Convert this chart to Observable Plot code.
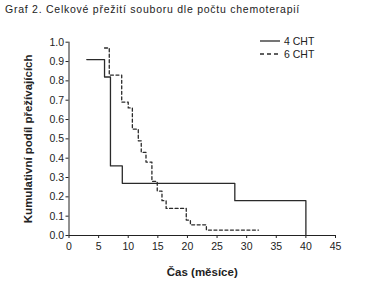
<!DOCTYPE html>
<html>
<head>
<meta charset="utf-8">
<script src="https://cdn.jsdelivr.net/npm/d3@7"></script>
<script src="https://cdn.jsdelivr.net/npm/@observablehq/plot@0.6"></script>
<style>
  body { margin: 0; background: white; font-family: "Liberation Sans", Arial, sans-serif; }
  #wrap { position: relative; width: 373px; height: 281px; overflow: hidden; }
  #title { height: 18px; line-height: 19px; padding-left: 5px; font-size: 10.5px; color: #222; letter-spacing: 0.75px; white-space: nowrap; }
  #legend { position: absolute; left: 260px; top: 34px; font-size: 10.5px; color: #222; }
  #legend div { display: flex; align-items: center; height: 13.5px; }
  #legend svg { margin-right: 4px; }
</style>
</head>
<body>
<div id="wrap">
  <div id="title">Graf 2. Celkové přežití souboru dle počtu chemoterapií</div>
  <div id="chart"></div>
  <div id="legend"></div>
</div>
<script>
const title = "Graf 2. Celkové přežití souboru dle počtu chemoterapií";
const xLabel = "Čas (měsíce)";
const yLabel = "Kumulativní podíl přežívajících";
const seriesNames = ["4 CHT", "6 CHT"];

// 4 CHT (solid) step curve: time (months), cumulative survival
const cht4Time = [3, 6, 7, 9, 28, 40];
const cht4Surv = [0.91, 0.82, 0.36, 0.27, 0.18, 0.0];

// 6 CHT (dashed) step curve
const cht6Time = [6, 6.8, 8.9, 10, 10.7, 11.7, 12.2, 13, 14, 14.9, 15.7, 16.4, 19.8, 20.5, 23.2, 32];
const cht6Surv = [0.97, 0.83, 0.69, 0.66, 0.55, 0.49, 0.43, 0.38, 0.28, 0.23, 0.18, 0.14, 0.08, 0.055, 0.028, 0.028];

const xTicks = [0, 5, 10, 15, 20, 25, 30, 35, 40, 45];
const yTicks = [0, 0.1, 0.2, 0.3, 0.4, 0.5, 0.6, 0.7, 0.8, 0.9, 1.0];

const d4 = cht4Time.map((t, i) => ({t, s: cht4Surv[i]}));
const d6 = cht6Time.map((t, i) => ({t, s: cht6Surv[i]}));

const chart = Plot.plot({
  width: 373,
  height: 263,
  marginLeft: 68.5,
  marginRight: 38,
  marginTop: 23.7,
  marginBottom: 46,
  style: { fontFamily: "'Liberation Sans', Arial, sans-serif", fontSize: "10.5px", color: "#222", background: "white" },
  x: { domain: [0, 45] },
  y: { domain: [0, 1] },
  marks: [
    Plot.axisX({ ticks: xTicks, tickSize: 3, tickPadding: 4, label: xLabel, labelAnchor: "center", labelOffset: 40, stroke: "#222" }),
    Plot.axisY({ ticks: yTicks, tickSize: 3, tickPadding: 2, tickFormat: d => d.toFixed(1), label: yLabel, labelAnchor: "center", labelOffset: 45, stroke: "#222" }),
    Plot.ruleY([0], { stroke: "#222", strokeWidth: 1.2 }),
    Plot.ruleX([0], { stroke: "#222", strokeWidth: 1 }),
    Plot.line(d4, { x: "t", y: "s", curve: "step-after", stroke: "#2a2a2a", strokeWidth: 1.3 }),
    Plot.line(d6, { x: "t", y: "s", curve: "step-after", stroke: "#2a2a2a", strokeWidth: 1.3, strokeDasharray: "3,2.5" })
  ]
});
document.getElementById("chart").appendChild(chart);

// bold axis titles without arrows
[['x-axis label', xLabel], ['y-axis label', yLabel]].forEach(([sel, txt]) => {
  chart.querySelectorAll(`g[aria-label="${sel}"] text`).forEach(t => {
    t.textContent = txt;
    t.setAttribute("font-weight", "bold");
    t.setAttribute("font-size", "11.5px");
  });
});

// legend
const leg = document.getElementById("legend");
seriesNames.forEach((name, i) => {
  const row = document.createElement("div");
  row.innerHTML = `<svg width="20" height="4"><line x1="0" y1="2" x2="20" y2="2" stroke="#2a2a2a" stroke-width="1.3" ${i === 1 ? 'stroke-dasharray="4,3"' : ''}/></svg><span>${name}</span>`;
  leg.appendChild(row);
});
</script>
</body>
</html>
